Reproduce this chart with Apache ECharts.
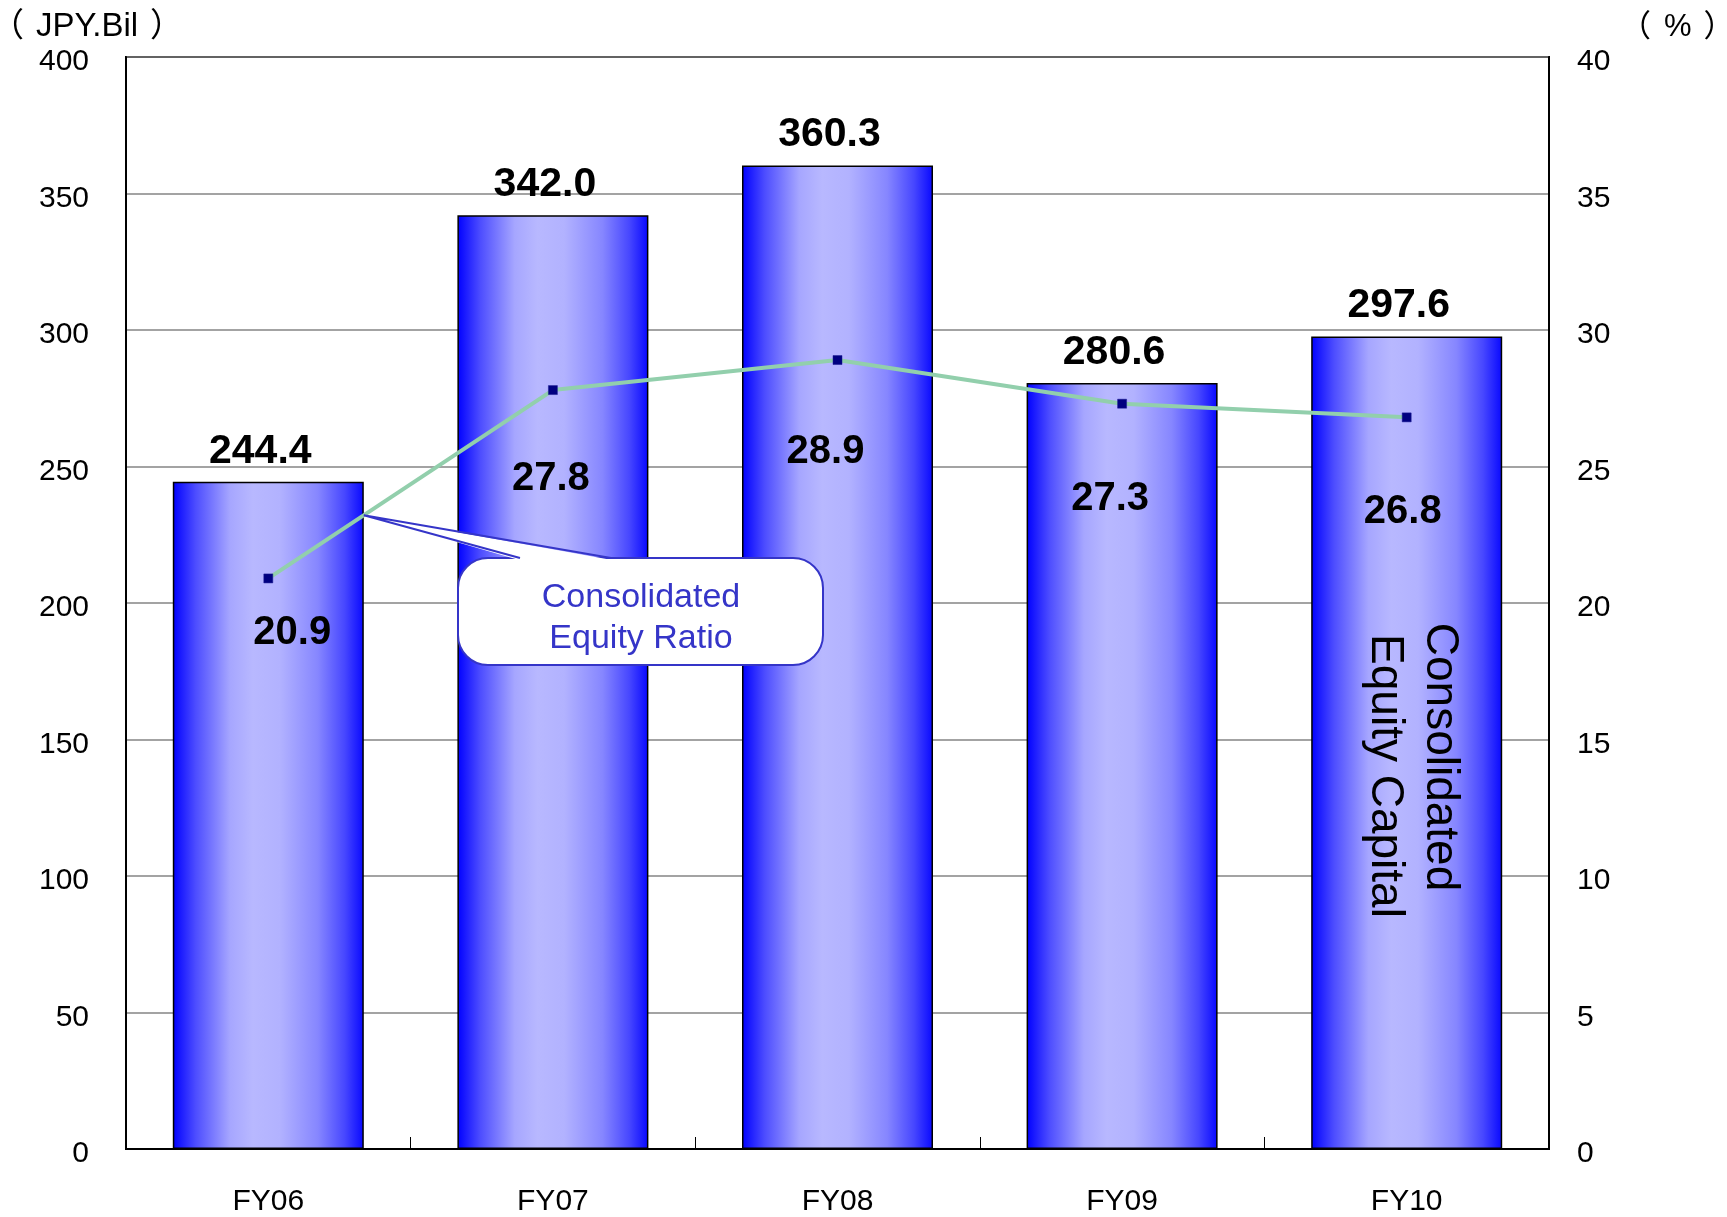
<!DOCTYPE html>
<html>
<head>
<meta charset="utf-8">
<title>Consolidated Equity Capital / Equity Ratio</title>
<script src="https://cdn.jsdelivr.net/npm/echarts@6/dist/echarts.min.js"></script>
<style>
  html, body { margin: 0; padding: 0; background: #fff; }
  #chart { width: 1727px; height: 1217px; }
</style>
</head>
<body>
<div id="chart"></div>
<script>
// Fiscal years and values
const years = ['FY06', 'FY07', 'FY08', 'FY09', 'FY10'];
const equityCapital = [244.4, 342.0, 360.3, 280.6, 297.6];   // JPY billion
const equityRatio = [20.9, 27.8, 28.9, 27.3, 26.8];          // %
const leftTicks = { min: 0, max: 400, step: 50 };
const rightTicks = { min: 0, max: 40, step: 5 };

const FONT = "'Liberation Sans', Arial, 'Noto Sans CJK JP', sans-serif";
const BAR_WIDTH = 191;

// per-point nudges for the ratio labels
const ratioLabelShift = [[24, 55], [-2, 89], [-12, 92], [-12, 95], [-4, 95]];

const chart = echarts.init(document.getElementById('chart'), null, { renderer: 'canvas' });

const barGradient = {
  type: 'linear', x: 0, y: 0, x2: 1, y2: 0,
  colorStops: [
    { offset: 0, color: '#0000ff' },
    { offset: 0.12, color: '#4d4dff' },
    { offset: 0.3, color: '#a6a6ff' },
    { offset: 0.42, color: '#b8b8ff' },
    { offset: 0.56, color: '#b2b2ff' },
    { offset: 0.76, color: '#8686ff' },
    { offset: 0.9, color: '#4747ff' },
    { offset: 1, color: '#0808ff' }
  ]
};

// value-axis labels sit a little below their grid lines
const valueLabel = (margin) => ({
  color: '#000', fontSize: 30, fontFamily: FONT, margin,
  verticalAlign: 'top', lineHeight: 10
});

const option = {
  animation: false,
  backgroundColor: '#ffffff',
  grid: {
    left: 126, right: 178, top: 57, bottom: 68,
    show: true, borderColor: '#000', borderWidth: 2, backgroundColor: 'transparent'
  },
  xAxis: {
    type: 'category',
    data: years,
    axisLine: { show: true, lineStyle: { color: '#000', width: 2 } },
    axisTick: { show: true, inside: true, length: 12, alignWithLabel: false, lineStyle: { color: '#000', width: 1 } },
    axisLabel: { color: '#000', fontSize: 30, fontFamily: FONT, margin: 38 },
    splitLine: { show: false }
  },
  yAxis: [
    {
      type: 'value',
      min: leftTicks.min, max: leftTicks.max, interval: leftTicks.step,
      axisLine: { show: true, lineStyle: { color: '#000', width: 2 } },
      axisTick: { show: false },
      axisLabel: valueLabel(37),
      splitLine: { show: true, lineStyle: { color: '#858585', width: 1.5 } }
    },
    {
      type: 'value',
      position: 'right',
      min: rightTicks.min, max: rightTicks.max, interval: rightTicks.step,
      axisLine: { show: true, lineStyle: { color: '#000', width: 2 } },
      axisTick: { show: false },
      axisLabel: valueLabel(28),
      splitLine: { show: false }
    }
  ],
  series: [
    {
      name: 'Consolidated Equity Capital',
      type: 'bar',
      yAxisIndex: 0,
      barWidth: BAR_WIDTH,
      data: equityCapital,
      itemStyle: { color: barGradient, borderColor: '#000', borderWidth: 1.5 },
      label: {
        show: true, position: 'top', distance: 10, offset: [-8, 0],
        color: '#000', fontSize: 41, fontWeight: 'bold', fontFamily: FONT,
        formatter: p => p.value.toFixed(1)
      },
      z: 2
    },
    {
      name: 'Consolidated Equity Ratio',
      type: 'line',
      yAxisIndex: 1,
      data: equityRatio.map((v, i) => ({
        value: v,
        label: { offset: ratioLabelShift[i] }
      })),
      lineStyle: { color: '#92cfac', width: 4 },
      symbol: 'rect',
      symbolSize: 9,
      itemStyle: { color: '#000080', borderColor: '#1a1a90', borderWidth: 0.5 },
      label: {
        show: true, position: 'inside',
        color: '#000', fontSize: 40, fontWeight: 'bold', fontFamily: FONT,
        formatter: p => p.value.toFixed(1)
      },
      z: 5
    }
  ]
};

chart.setOption(option);

// Callout for the ratio line, anchored where the line leaves the FY06 bar
const p0 = chart.convertToPixel({ xAxisIndex: 0, yAxisIndex: 1 }, [0, equityRatio[0]]);
const p1 = chart.convertToPixel({ xAxisIndex: 0, yAxisIndex: 1 }, [1, equityRatio[1]]);
const tipX = p0[0] + BAR_WIDTH / 2;
const tipY = p0[1] + (p1[1] - p0[1]) * (tipX - p0[0]) / (p1[0] - p0[0]);

const CALLOUT = '#3535c8';
const box = { x: 458, y: 558, w: 365, h: 107 };

chart.setOption({
  graphic: [
    {
      type: 'text', x: -9, y: 27, z: 10,
      style: {
        text: '{o|（}{t|JPY.Bil}{c|）}',
        verticalAlign: 'middle',
        rich: {
          o: { fill: '#000', font: '33px ' + FONT, padding: [0, 12, 0, 0] },
          t: { fill: '#000', font: '33px ' + FONT },
          c: { fill: '#000', font: '33px ' + FONT, padding: [0, 0, 0, 12] }
        }
      }
    },
    {
      type: 'text', x: 1620, y: 27, z: 10,
      style: {
        text: '{o|（}{t|%}{c|）}',
        verticalAlign: 'middle',
        rich: {
          o: { fill: '#000', font: '31px ' + FONT, padding: [0, 13, 0, 0] },
          t: { fill: '#000', font: '31px ' + FONT },
          c: { fill: '#000', font: '31px ' + FONT, padding: [0, 0, 0, 12] }
        }
      }
    },
    {
      type: 'rect', z: 20,
      shape: { x: box.x, y: box.y, width: box.w, height: box.h, r: [30, 30, 30, 30] },
      style: { fill: '#fff', stroke: CALLOUT, lineWidth: 2 }
    },
    {
      type: 'polygon', z: 21,
      shape: { points: [[tipX, tipY], [519, box.y + 2], [612, box.y + 2]] },
      style: { fill: '#fff', stroke: null }
    },
    {
      type: 'polyline', z: 22,
      shape: { points: [[520, box.y], [tipX, tipY], [611, box.y]] },
      style: { fill: null, stroke: CALLOUT, lineWidth: 2 }
    },
    {
      type: 'text', z: 23, x: 641, y: 598,
      style: { text: 'Consolidated', fill: CALLOUT, font: '34px ' + FONT, align: 'center', verticalAlign: 'middle' }
    },
    {
      type: 'text', z: 23, x: 641, y: 639,
      style: { text: 'Equity Ratio', fill: CALLOUT, font: '34px ' + FONT, align: 'center', verticalAlign: 'middle' }
    },
    {
      type: 'text', z: 23, x: 1440, y: 757, rotation: -Math.PI / 2,
      style: { text: 'Consolidated', fill: '#000', font: '46px ' + FONT, align: 'center', verticalAlign: 'middle' }
    },
    {
      type: 'text', z: 23, x: 1385, y: 776, rotation: -Math.PI / 2,
      style: { text: 'Equity Capital', fill: '#000', font: '46px ' + FONT, align: 'center', verticalAlign: 'middle' }
    }
  ]
});
</script>
</body>
</html>
